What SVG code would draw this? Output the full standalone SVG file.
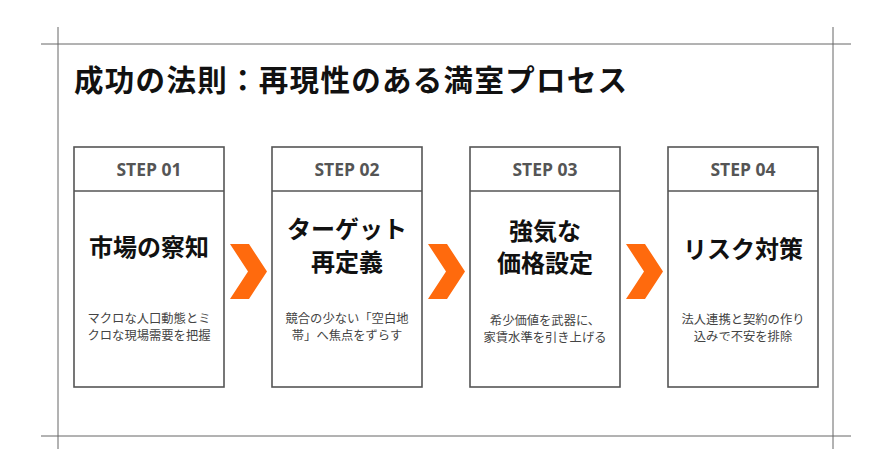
<svg xmlns="http://www.w3.org/2000/svg" width="873" height="449" viewBox="0 0 873 449">
<style>
.frame{stroke:#666;stroke-width:1;fill:none}
.box{fill:#fff;stroke:#555;stroke-width:1.6}
.step{font-family:"Open Sans","Noto Sans",sans-serif;font-weight:700;font-size:17.5px;fill:#555;text-anchor:middle}
.ttl{font-family:"Noto Sans CJK JP",sans-serif;font-weight:700;font-size:24px;fill:#111;text-anchor:middle}
.desc{font-family:"Noto Sans CJK JP",sans-serif;font-size:12.3px;fill:#444;text-anchor:middle}
.chev{fill:#FF6A0D}
</style>
<rect width="873" height="449" fill="#fff"/>
<g id="frame">
<line class="frame" x1="41" y1="44" x2="851" y2="44"/>
<line class="frame" x1="41" y1="436" x2="851" y2="436"/>
<line class="frame" x1="58" y1="27" x2="58" y2="449"/>
<line class="frame" x1="833" y1="27" x2="833" y2="449"/>
</g>
<text x="74" y="91" font-family="'Noto Sans CJK JP',sans-serif" font-weight="700" font-size="29.5" fill="#111" letter-spacing="1.3">成功の法則：再現性のある満室プロセス</text>
<g id="step1">
<rect class="box" x="74" y="147" width="150" height="240"/>
<line class="box" x1="74" y1="191" x2="224" y2="191"/>
<text class="step" x="149" y="176">STEP 01</text>
<text class="ttl" x="149" y="256">市場の察知</text>
<text class="desc" x="149" y="323">マクロな人口動態とミ</text>
<text class="desc" x="149" y="340">クロな現場需要を把握</text>
</g>
<g id="step2">
<rect class="box" x="272" y="147" width="150" height="240"/>
<line class="box" x1="272" y1="191" x2="422" y2="191"/>
<text class="step" x="347" y="176">STEP 02</text>
<text class="ttl" x="347" y="238">ターゲット</text>
<text class="ttl" x="347" y="271">再定義</text>
<text class="desc" x="347" y="323">競合の少ない「空白地</text>
<text class="desc" x="347" y="340">帯」へ焦点をずらす</text>
</g>
<g id="step3">
<rect class="box" x="470" y="147" width="150" height="240"/>
<line class="box" x1="470" y1="191" x2="620" y2="191"/>
<text class="step" x="545" y="176">STEP 03</text>
<text class="ttl" x="545" y="240">強気な</text>
<text class="ttl" x="545" y="272">価格設定</text>
<text class="desc" x="545" y="325">希少価値を武器に、</text>
<text class="desc" x="545" y="342">家賃水準を引き上げる</text>
</g>
<g id="step4">
<rect class="box" x="668" y="147" width="150" height="240"/>
<line class="box" x1="668" y1="191" x2="818" y2="191"/>
<text class="step" x="743" y="176">STEP 04</text>
<text class="ttl" x="743" y="258">リスク対策</text>
<text class="desc" x="743" y="324">法人連携と契約の作り</text>
<text class="desc" x="743" y="341">込みで不安を排除</text>
</g>
<g id="connectors">
<polygon class="chev" points="230,244 249,244 267,271.5 249,299 230,299 248,271.5"/>
<polygon class="chev" points="428,244 447,244 465,271.5 447,299 428,299 446,271.5"/>
<polygon class="chev" points="626,244 645,244 663,271.5 645,299 626,299 644,271.5"/>
</g>
</svg>
